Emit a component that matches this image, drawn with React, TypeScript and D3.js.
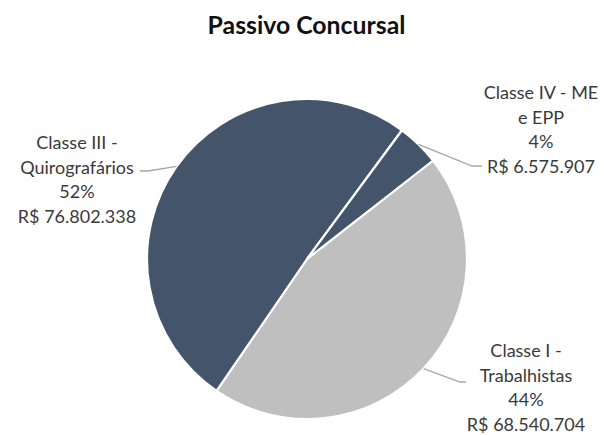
import React from "react";
import * as d3 from "d3";

const title = "Passivo Concursal";
const categories = ["Classe I - Trabalhistas", "Classe III - Quirografários", "Classe IV - ME e EPP"];
const nameLines = [["Classe I -", "Trabalhistas"], ["Classe III -", "Quirografários"], ["Classe IV - ME", "e EPP"]];
const values = [68540704, 76802338, 6575907];
const percentLabels = ["44%", "52%", "4%"];
const colors = ["#BFBFBF", "#44546A", "#44546A"];

// layout
const W = 604, H = 435;
const cx = 307, cy = 259, R = 160;
const startDeg = 52;
const labelPos = [
  { x: 526, y: 357, elbow: [460, 382], end: [466, 382] },
  { x: 77, y: 149, elbow: [148, 171], end: [140, 171] },
  { x: 541, y: 99, elbow: [472, 166], end: [482, 166] },
];
const lineH = 24.7;
const FONT = "Lato, 'Open Sans', sans-serif";

const ptBR = d3.formatLocale({ decimal: ",", thousands: ".", grouping: [3], currency: ["R$ ", ""] });
const fmt = ptBR.format("$,.0f");

export default function App() {
  const start = (startDeg * Math.PI) / 180;
  const pie = d3.pie<number>().sort(null).startAngle(start).endAngle(start + 2 * Math.PI);
  const arcs = pie(values);
  const arc = d3.arc<d3.PieArcDatum<number>>().innerRadius(0).outerRadius(R);
  const edgeArc = d3.arc<d3.PieArcDatum<number>>().innerRadius(R).outerRadius(R);

  return (
    <svg width={W} height={H} style={{ position: "absolute", left: 0, top: 0, background: "#fff" }} fontFamily={FONT}>
      <text x={306.5} y={34} textAnchor="middle" fontSize={24.8} fontWeight="bold" fill="#111">
        {title}
      </text>
      <g transform={`translate(${cx},${cy})`}>
        {arcs.map((a, i) => (
          <path key={categories[i]} d={arc(a) || ""} fill={colors[i]} stroke="#fff" strokeWidth={2.2} strokeLinejoin="round" />
        ))}
      </g>
      {arcs.map((a, i) => {
        const [ex, ey] = edgeArc.centroid(a);
        const p = labelPos[i];
        const lines = [...nameLines[i], percentLabels[i], fmt(values[i])];
        return (
          <g key={"lbl" + i}>
            <polyline
              points={`${cx + ex},${cy + ey} ${p.elbow[0]},${p.elbow[1]} ${p.end[0]},${p.end[1]}`}
              fill="none"
              stroke="#A6A6A6"
              strokeWidth={1.3}
            />
            <text textAnchor="middle" fontSize={18} fill="#3a3a3a">
              {lines.map((t, j) => (
                <tspan key={j} x={p.x} y={p.y + j * lineH}>
                  {t}
                </tspan>
              ))}
            </text>
          </g>
        );
      })}
    </svg>
  );
}
